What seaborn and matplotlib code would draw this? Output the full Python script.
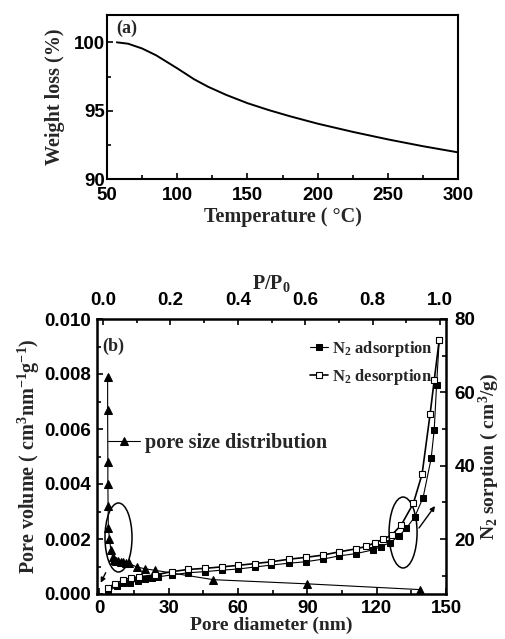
import matplotlib
matplotlib.use("Agg")
import matplotlib.pyplot as plt
import seaborn as sns
from matplotlib.patches import Ellipse
from matplotlib.ticker import MultipleLocator

# (a) thermogravimetric curve
temperature = [57, 65, 75, 85, 100, 112, 122, 135, 150, 165, 180, 200, 225, 250, 275, 300]
weight = [100.0, 99.9, 99.55, 99.05, 98.1, 97.3, 96.75, 96.15, 95.55, 95.05, 94.6,
          94.05, 93.45, 92.9, 92.4, 91.95]

# (b) BJH pore size distribution
pore_diameter = [3.6, 3.6, 3.7, 3.7, 3.8, 3.9, 4.4, 5.0, 5.8, 6.4, 7.2, 8.2, 9.2,
                 10.3, 11.5, 12.8, 16.3, 19.6, 24.2, 49.4, 89.8, 138.8]
pore_volume = [0.0079, 0.0067, 0.0048, 0.0040, 0.0032, 0.0024, 0.0020, 0.0016,
               0.00135, 0.00125, 0.00121, 0.00119, 0.00118, 0.00116, 0.00114,
               0.00111, 0.00098, 0.00092, 0.00086, 0.00052, 0.00037, 0.00016]

# (b) N2 isotherm, relative pressure vs. adsorbed volume
ads_p = [0.014, 0.041, 0.06, 0.08, 0.104, 0.125, 0.144, 0.164, 0.204, 0.253, 0.303,
         0.352, 0.40, 0.45, 0.50, 0.553, 0.602, 0.652, 0.701, 0.75, 0.80, 0.824,
         0.852, 0.877, 0.90, 0.925, 0.95, 0.974, 0.983, 0.99, 0.998]
ads_n = [5.6, 7.2, 7.9, 8.1, 8.6, 9.1, 9.5, 9.7, 10.2, 10.8, 11.1, 11.5, 11.8, 12.35,
         12.9, 13.4, 13.8, 14.5, 15.4, 16.0, 17.0, 17.9, 19.0, 20.7, 22.9, 26.0,
         31.3, 42.0, 49.8, 62.0, 74.4]
des_p = [0.014, 0.034, 0.06, 0.083, 0.107, 0.154, 0.204, 0.253, 0.303, 0.352, 0.40,
         0.45, 0.50, 0.553, 0.602, 0.652, 0.701, 0.75, 0.782, 0.807, 0.832, 0.858,
         0.885, 0.921, 0.947, 0.971, 0.983, 0.998]
des_n = [6.7, 7.7, 8.8, 9.4, 9.7, 10.2, 11.1, 11.7, 12.0, 12.4, 12.8, 13.3, 13.8,
         14.5, 15.0, 15.6, 16.5, 17.3, 18.0, 19.0, 19.9, 21.2, 23.8, 29.7, 37.7,
         54.2, 63.3, 74.4]

sns.set_theme(style="ticks")
plt.rcParams.update({
    "font.family": ["Liberation Sans", "DejaVu Sans"],
    "font.weight": "bold",
    "font.size": 13.5,
    "mathtext.fontset": "custom",
    "mathtext.rm": "Liberation Serif:bold",
    "mathtext.it": "Liberation Serif:bold",
    "mathtext.bf": "Liberation Serif:bold",
    "axes.edgecolor": "black",
    "xtick.color": "black",
    "ytick.color": "black",
})
SERIF = ["Liberation Serif", "DejaVu Serif"]
label_font = dict(family=SERIF, weight="bold", size=14.5)

W, H = 505, 639
fig = plt.figure(figsize=(W / 100, H / 100), dpi=100)


def box(x0, y0, x1, y1):
    return [x0 / W, 1 - y1 / H, (x1 - x0) / W, (y1 - y0) / H]


def style_ticks(ax, **kw):
    ax.tick_params(which="both", direction="in", width=1.2, labelsize=13.5, **kw)
    ax.tick_params(which="major", length=4.5)
    ax.tick_params(which="minor", length=3)
    for lab in ax.get_xticklabels() + ax.get_yticklabels():
        lab.set_fontweight("bold")


# ---------------- (a) ----------------
ax_a = fig.add_axes(box(107, 15, 458, 179))
sns.lineplot(x=temperature, y=weight, ax=ax_a, color="black", linewidth=1.4)
ax_a.set_xlim(50, 300)
ax_a.set_ylim(90, 102)
ax_a.xaxis.set_major_locator(MultipleLocator(50))
ax_a.xaxis.set_minor_locator(MultipleLocator(25))
ax_a.yaxis.set_major_locator(MultipleLocator(5))
ax_a.yaxis.set_minor_locator(MultipleLocator(2.5))
for s in ax_a.spines.values():
    s.set_linewidth(1.5)
style_ticks(ax_a, top=False, right=False)
ax_a.tick_params(axis="y", pad=1.5)
ax_a.tick_params(axis="x", pad=6)
ax_a.set_xlabel("Temperature ( °C)", fontdict=label_font, labelpad=2)
ax_a.set_ylabel("Weight loss (%)", fontdict=label_font, labelpad=6)
ax_a.text(0.025, 0.97, "(a)", transform=ax_a.transAxes, ha="left", va="top",
          family=SERIF, weight="bold", size=13)

# ---------------- (b) ----------------
pos_b = box(97, 319, 446, 594)
ax_b = fig.add_axes(pos_b)
sns.lineplot(x=pore_diameter, y=pore_volume, ax=ax_b, sort=False, estimator=None,
             color="black", linewidth=0.8, marker="^", markersize=5.2,
             markeredgecolor="black", markerfacecolor="black",
             label="pore size distribution")
ax_b.set_xlim(-1, 150)
ax_b.set_ylim(0, 0.010)
ax_b.xaxis.set_major_locator(MultipleLocator(30))
ax_b.xaxis.set_minor_locator(MultipleLocator(15))
ax_b.yaxis.set_major_locator(MultipleLocator(0.002))
ax_b.yaxis.set_minor_locator(MultipleLocator(0.001))
ax_b.yaxis.set_major_formatter(plt.FormatStrFormatter("%.3f"))
for s in ax_b.spines.values():
    s.set_linewidth(1.8)
style_ticks(ax_b, top=False, right=False)
ax_b.tick_params(axis="y", pad=4)
ax_b.tick_params(axis="x", pad=4)
ax_b.set_xlabel("Pore diameter (nm)",
                fontdict=dict(family=SERIF, weight="bold", size=14), labelpad=0)
ax_b.set_ylabel(r"Pore volume ( cm$^{3}$nm$^{-1}$g$^{-1}$)", fontdict=label_font,
                labelpad=2)
ax_b.legend(loc="center left", bbox_to_anchor=((108 - 97) / 349, (594 - 443) / 275),
            frameon=False, borderpad=0, borderaxespad=0, handlelength=1.6,
            handletextpad=0.25, prop=dict(family=SERIF, weight="bold", size=14.5))

ax_n = fig.add_axes(pos_b, frameon=False)
ax_n.patch.set_alpha(0)
sns.lineplot(x=ads_p, y=ads_n, ax=ax_n, sort=False, estimator=None, color="black",
             linewidth=0.8, marker="s", markersize=4.6, markeredgecolor="black",
             markerfacecolor="black", label=r"N$_2$ adsorption")
sns.lineplot(x=des_p, y=des_n, ax=ax_n, sort=False, estimator=None, color="black",
             linewidth=1.2, marker="s", markersize=4.6, markeredgecolor="black",
             markeredgewidth=0.8, markerfacecolor="white", label=r"N$_2$ desorption")
sns.scatterplot(x=des_p, y=des_n, ax=ax_n, marker="s", s=1.0, color="black",
                linewidth=0, legend=False)
ax_n.set_xlim(-0.018, 1.018)
ax_n.set_ylim(5, 80)
ax_n.xaxis.tick_top()
ax_n.yaxis.tick_right()
ax_n.xaxis.set_label_position("top")
ax_n.yaxis.set_label_position("right")
ax_n.xaxis.set_major_locator(MultipleLocator(0.2))
ax_n.xaxis.set_minor_locator(MultipleLocator(0.1))
ax_n.yaxis.set_major_locator(MultipleLocator(20))
ax_n.yaxis.set_minor_locator(MultipleLocator(10))
ax_n.xaxis.set_major_formatter(plt.FormatStrFormatter("%.1f"))
style_ticks(ax_n, bottom=False, left=False, top=True, right=True)
ax_n.tick_params(axis="x", pad=7)
ax_n.tick_params(axis="y", pad=6)
ax_n.set_xlabel(r"P/P$_0$", fontdict=label_font, labelpad=2)
ax_n.set_ylabel(r"N$_2$ sorption ( cm$^{3}$/g)",
                fontdict=dict(family=SERIF, weight="bold", size=14), labelpad=1)
ax_n.legend(loc="center left", bbox_to_anchor=((310 - 97) / 349, (594 - 363) / 275),
            frameon=False, borderpad=0, borderaxespad=0, handlelength=1.1,
            handletextpad=0.2, labelspacing=0.5,
            prop=dict(family=SERIF, weight="bold", size=12))

# ellipses marking which curve belongs to which axis, with pointer arrows
for cx, cy, w, h in [(0.0616, 0.2055, 0.0774, 0.251), (0.877, 0.2236, 0.0802, 0.258)]:
    ax_n.add_patch(Ellipse((cx, cy), w, h, transform=ax_n.transAxes, fill=False,
                           edgecolor="black", linewidth=1.1))
ax_n.annotate("", xy=(0.0106, 0.041), xytext=(0.0249, 0.0775),
              xycoords="axes fraction", textcoords="axes fraction",
              arrowprops=dict(arrowstyle="-|>", color="black", lw=1.0,
                              mutation_scale=7, shrinkA=0, shrinkB=0))
ax_n.annotate("", xy=(0.9685, 0.32), xytext=(0.9226, 0.24),
              xycoords="axes fraction", textcoords="axes fraction",
              arrowprops=dict(arrowstyle="-|>", color="black", lw=1.0,
                              mutation_scale=7, shrinkA=0, shrinkB=0))
ax_n.text((102 - 97) / 349, (594 - 338) / 275, "(b)", transform=ax_n.transAxes,
          ha="left", va="top", family=SERIF, weight="bold", size=13)

fig.savefig("out.png", dpi=100)
